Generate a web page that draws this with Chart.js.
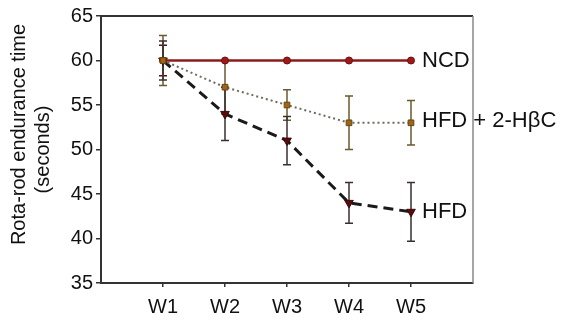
<!DOCTYPE html>
<html>
<head>
<meta charset="utf-8">
<script src="https://cdn.jsdelivr.net/npm/chart.js@4"></script>
<style>
  html, body { margin: 0; padding: 0; background: #fff; }
  #wrap { width: 568px; height: 320px; }
</style>
</head>
<body>
<div id="wrap"><canvas id="canvas"></canvas></div>
<script>
  // Chart data
  const weeks = ['W1', 'W2', 'W3', 'W4', 'W5'];
  const seriesNames = ['NCD', 'HFD + 2-H\u03B2C', 'HFD'];
  const ncdValues = [60, 60, 60, 60, 60];
  const ncdErrors = [1.7, 0, 0, 0, 0];
  const hbcValues = [60, 57, 55, 53, 53];
  const hbcErrors = [2.8, 3, 1.7, 3, 2.5];
  const hfdValues = [60, 54, 51, 44, 43];
  const hfdErrors = [2.2, 3, 2.7, 2.3, 3.3];
  const yTicks = [35, 40, 45, 50, 55, 60, 65];
  const yTitle = ['Rota-rod endurance time', '(seconds)'];

  const font = 'Liberation Sans, Arial, sans-serif';

  function points(values) {
    return values.map((v, i) => ({ x: i + 1, y: v }));
  }

  // error bars, drawn under the markers
  const errorBars = {
    id: 'errorBars',
    beforeDatasetsDraw(chart) {
      const ctx = chart.ctx;
      const xs = chart.scales.x, ys = chart.scales.y;
      chart.data.datasets.forEach(ds => {
        ds.errors.forEach((e, i) => {
          if (!e) return;
          const x = xs.getPixelForValue(i + 1);
          const top = ys.getPixelForValue(ds.data[i].y + e);
          const bot = ys.getPixelForValue(ds.data[i].y - e);
          ctx.save();
          ctx.strokeStyle = ds.errorColor;
          ctx.lineWidth = 1.5;
          ctx.beginPath();
          ctx.moveTo(x, top); ctx.lineTo(x, bot);
          ctx.moveTo(x - 4, top); ctx.lineTo(x + 4, top);
          ctx.moveTo(x - 4, bot); ctx.lineTo(x + 4, bot);
          ctx.stroke();
          ctx.restore();
        });
      });
    }
  };

  // frame, series labels and the two-line y title
  const extras = {
    id: 'extras',
    afterDraw(chart) {
      const ctx = chart.ctx;
      const a = chart.chartArea;
      const xs = chart.scales.x, ys = chart.scales.y;
      ctx.save();
      ctx.strokeStyle = '#333';
      ctx.lineWidth = 2;
      ctx.beginPath();
      ctx.moveTo(a.left, a.top); ctx.lineTo(a.right, a.top);
      ctx.stroke();
      ctx.strokeStyle = '#888';
      ctx.lineWidth = 1.5;
      ctx.beginPath();
      ctx.moveTo(a.right, a.top); ctx.lineTo(a.right, a.bottom);
      ctx.stroke();

      ctx.fillStyle = '#111';
      ctx.font = '22px ' + font;
      ctx.textBaseline = 'middle';
      ctx.textAlign = 'left';
      chart.data.datasets.forEach((ds, k) => {
        const last = ds.data[ds.data.length - 1];
        const x = xs.getPixelForValue(last.x) + 11;
        const y = ys.getPixelForValue(last.y) + (k === 1 ? -2 : 0);
        ctx.fillText(seriesNames[k], x, y);
      });

      ctx.font = '20px ' + font;
      ctx.textAlign = 'center';
      const mid = (a.top + a.bottom) / 2;
      ctx.translate(19, mid - 15);
      ctx.rotate(-Math.PI / 2);
      ctx.fillText(yTitle[0], 0, 0);
      ctx.rotate(Math.PI / 2);
      ctx.translate(24, 15);
      ctx.rotate(-Math.PI / 2);
      ctx.fillText(yTitle[1], 0, 0);
      ctx.restore();
    }
  };

  const canvas = document.getElementById('canvas');
  const chart = new Chart(canvas.getContext('2d'), {
    type: 'line',
    data: {
      datasets: [
        {
          label: seriesNames[0], data: points(ncdValues), errors: ncdErrors, order: 1,
          borderColor: '#8b1c1c', borderWidth: 2.5, errorColor: '#5a1010',
          pointStyle: 'circle', pointRadius: 3.5,
          pointBackgroundColor: '#a01818', pointBorderColor: '#6a1010', pointBorderWidth: 1
        },
        {
          label: seriesNames[1], data: points(hbcValues), errors: hbcErrors, order: 0,
          borderColor: '#6e6a5e', borderWidth: 2, borderDash: [2, 3], errorColor: '#6b5a2e',
          pointStyle: 'rect', pointRadius: 4,
          pointBackgroundColor: '#a8620e', pointBorderColor: '#5a4a1a', pointBorderWidth: 1
        },
        {
          label: seriesNames[2], data: points(hfdValues), errors: hfdErrors, order: 2,
          borderColor: '#1a1a1a', borderWidth: 3, borderDash: [10, 6], errorColor: '#3a3030',
          pointStyle: 'triangle', rotation: 180, pointRadius: 5,
          pointBackgroundColor: '#5a0c0c', pointBorderColor: '#3a0808', pointBorderWidth: 1
        }
      ]
    },
    options: {
      responsive: true,
      maintainAspectRatio: false,
      animation: false,
      layout: { padding: { left: 0, right: 95, top: 16, bottom: 0 } },
      plugins: { legend: { display: false }, tooltip: { enabled: false } },
      scales: {
        x: {
          type: 'linear', min: 0, max: 6,
          afterBuildTicks: axis => { axis.ticks = weeks.map((w, i) => ({ value: i + 1 })); },
          afterFit: s => { s.height = 37; },
          ticks: {
            callback: (v, i) => weeks[i],
            color: '#111', font: { family: font, size: 20 }, padding: 8, maxRotation: 0
          },
          grid: { drawOnChartArea: false, tickLength: 4, color: '#333', lineWidth: 1.5 },
          border: { color: '#333', width: 2 }
        },
        y: {
          min: 35, max: 65,
          afterBuildTicks: axis => { axis.ticks = yTicks.map(v => ({ value: v })); },
          afterFit: s => { s.width = 101; },
          ticks: { color: '#111', font: { family: font, size: 20 }, padding: 3 },
          grid: { drawOnChartArea: false, tickLength: 5, color: '#333', lineWidth: 1.5 },
          border: { color: '#333', width: 2 }
        }
      }
    },
    plugins: [errorBars, extras]
  });
</script>
</body>
</html>
